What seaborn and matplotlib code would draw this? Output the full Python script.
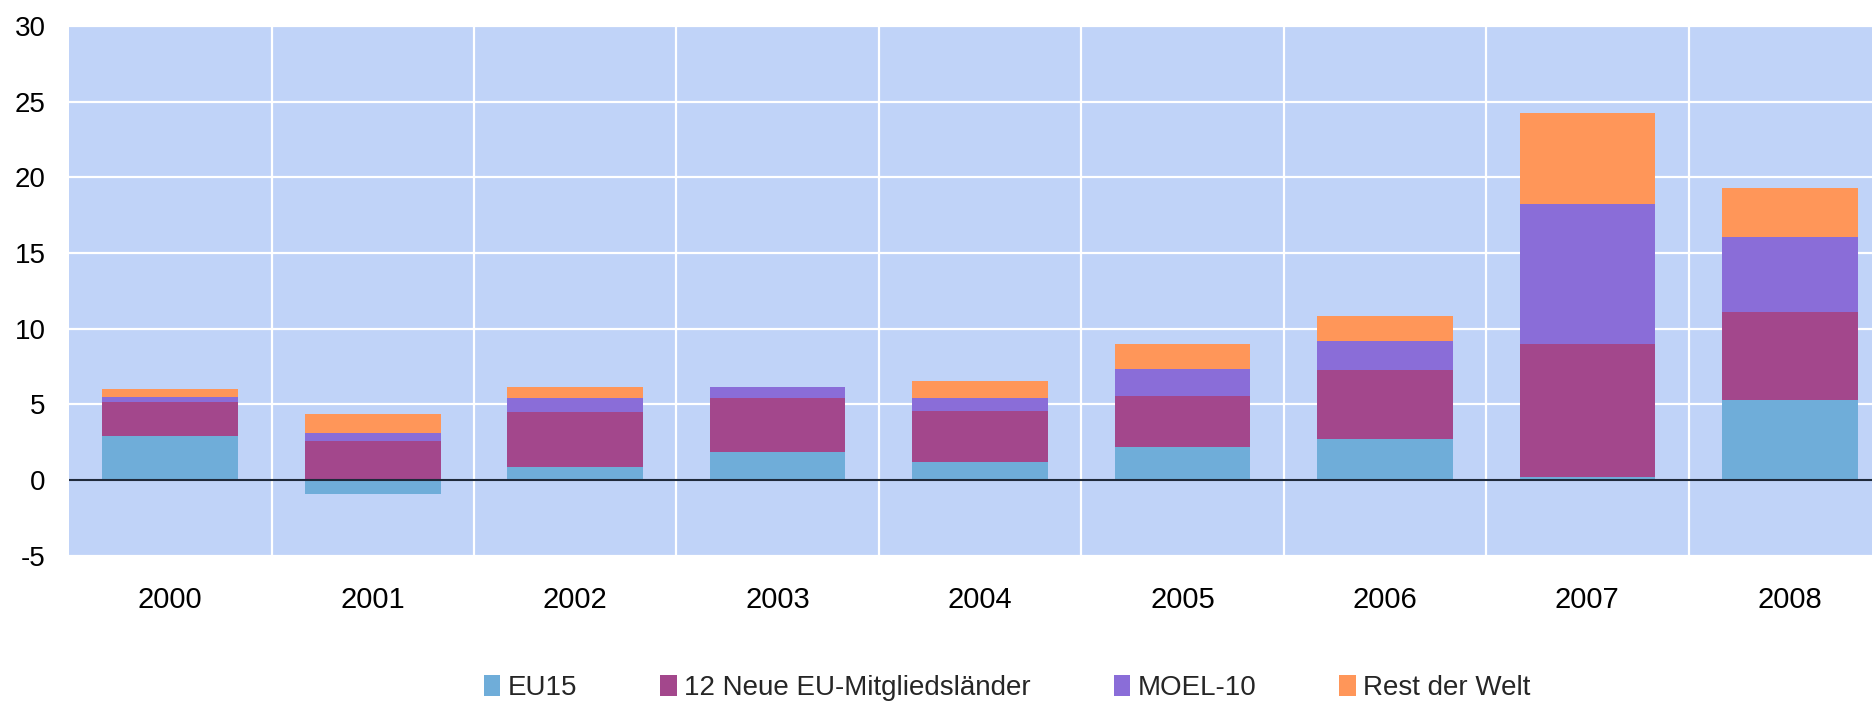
import numpy as np
import pandas as pd
import matplotlib
matplotlib.use("Agg")
import matplotlib.pyplot as plt
import seaborn as sns
from matplotlib.patches import Patch

years = ["2000", "2001", "2002", "2003", "2004", "2005", "2006", "2007", "2008"]
eu15 = [2.95, -0.91, 0.84, 1.83, 1.17, 2.22, 2.74, 0.19, 5.29]
neue12 = [2.23, 2.60, 3.68, 3.60, 3.40, 3.33, 4.52, 8.78, 5.83]
moel10 = [0.33, 0.54, 0.91, 0.73, 0.86, 1.78, 1.90, 9.25, 4.92]
rest = [0.52, 1.24, 0.73, 0.00, 1.10, 1.64, 1.71, 6.02, 3.23]
series_names = ["EU15", "12 Neue EU-Mitgliedsländer", "MOEL-10", "Rest der Welt"]
colors = ["#6FADD9", "#A3478C", "#8A6DD8", "#FF9659"]

sns.set_theme(style="white")
plt.rcParams["font.family"] = ["Liberation Sans", "DejaVu Sans"]

fig = plt.figure(figsize=(18.72, 7.01), dpi=100)
ax = fig.add_axes([0.0369, 0.207, 0.9631, 0.756])
ax.set_facecolor("#C0D3F8")

base = np.maximum(np.array(eu15), 0)
l2 = base + np.array(neue12)
l3 = l2 + np.array(moel10)
l4 = l3 + np.array(rest)
df = pd.DataFrame({"year": years, "l4": l4, "l3": l3, "l2": l2, "l1": eu15})

for col, c in zip(["l4", "l3", "l2", "l1"], colors[::-1]):
    sns.barplot(data=df, x="year", y=col, color=c, width=0.67,
                saturation=1, ax=ax, linewidth=0, zorder=3)

ax.set_ylim(-5, 30)
ax.set_xlim(-0.5, 8.406)
ax.set_yticks(np.arange(-5, 31, 5))
ax.set_yticklabels([str(v) for v in range(-5, 31, 5)])
ax.set_xlabel("")
ax.set_ylabel("")

for v in range(-5, 31, 5):
    if v != 0:
        ax.axhline(v, color="white", lw=1.6, zorder=1)
for i in range(len(years) - 1):
    ax.axvline(i + 0.5, color="white", lw=1.6, zorder=1)
ax.axhline(0, color="#1F2A3C", lw=1.5, zorder=4)

for s in ax.spines.values():
    s.set_visible(False)
ax.tick_params(axis="both", length=0, colors="black")
ax.tick_params(axis="x", pad=22, labelsize=21)
ax.tick_params(axis="y", pad=17, labelsize=20)

handles = [Patch(facecolor=c, edgecolor="none") for c in colors]
fig.legend(handles, series_names, loc="center", bbox_to_anchor=(0.538, 0.0185),
           ncol=4, frameon=False, fontsize=20, handlelength=0.6, handleheight=0.75,
           handletextpad=0.25, columnspacing=3.0, borderpad=0.1)

fig.savefig("out.png", dpi=100)
